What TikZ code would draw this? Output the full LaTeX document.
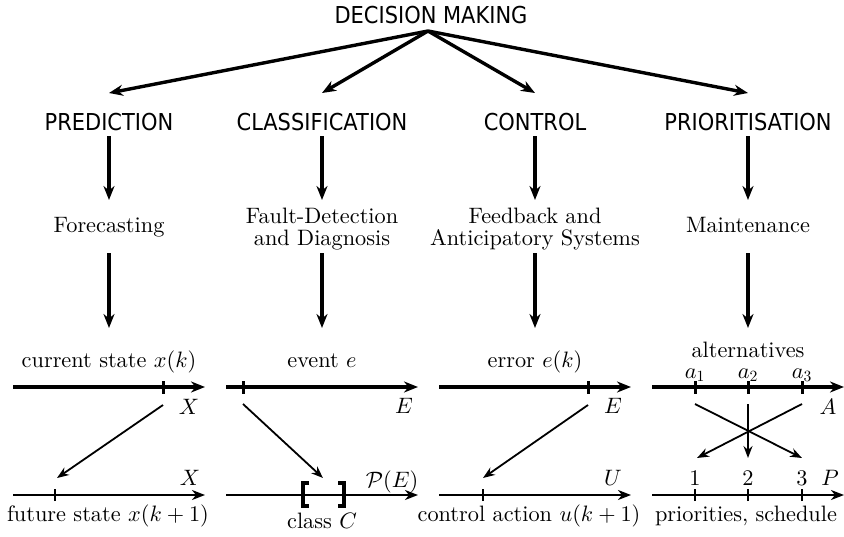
\RequirePackage{fix-cm}
\documentclass[tikz,border=0pt]{standalone}
\usepackage{fontspec}
\setmainfont{lmroman10-regular.otf}
\newfontfamily\hdfont[FakeStretch=0.9]{DejaVu Sans}
\DeclareFontShape{OML}{cmm}{m}{it}{<->cmmi10}{\skewchar\font'177}
\DeclareFontShape{OMS}{cmsy}{m}{n}{<->cmsy10}{\skewchar\font'60}
\DeclareFontShape{OT1}{cmr}{m}{n}{<->cmr10}{}
\usetikzlibrary{arrows.meta}
\tikzset{
  txt/.style={font=\fontsize{22.3}{22}\selectfont, inner sep=0pt},
  hd/.style={font=\hdfont\fontsize{23.3}{26}\selectfont, inner sep=2pt},
  fat/.style={line width=3.4pt, -{Stealth[length=14pt,width=11pt,inset=4.5pt]}},
  axthick/.style={line width=3.4pt, -{Stealth[length=14pt,width=11pt,inset=4.5pt]}},
  axthin/.style={line width=2pt, -{Stealth[length=13pt,width=10pt,inset=4pt]}},
  thinarr/.style={line width=1.8pt, -{Stealth[length=12pt,width=9pt,inset=4pt]}},
  tickmark/.style={line width=3pt},
  brk/.style={line width=3.2pt, line cap=butt, line join=miter},
}
\begin{document}
\begin{tikzpicture}[x=1pt,y=-1pt]
\useasboundingbox (0,0) rectangle (844,536);
% top level
\node[hd] (dm) at (431,15) {DECISION MAKING};
\coordinate (src) at (428,31);
% headings
\node[hd] (h1) at (109,122) {PREDICTION};
\node[hd] (h2) at (322,122) {CLASSIFICATION};
\node[hd] (h3) at (535,122) {CONTROL};
\node[hd] (h4) at (748,122) {PRIORITISATION};
\foreach \i/\x in {1/109,2/322,3/535,4/748}{
  \coordinate (t\i) at (\x,93);
  \coordinate (u\i) at (\x,200);
  \coordinate (v\i) at (\x,253);
  \coordinate (w\i) at (\x,328);
}
\foreach \i in {1,...,4}{
  \draw[fat] (src) -- (t\i);
  \draw[fat, shorten <=3pt] (h\i) -- (u\i);
  \draw[fat] (v\i) -- (w\i);
}
% second level
\node[txt, anchor=base] (f1) at (109,232) {Forecasting};
\node[txt, align=center] (f2) at (322,229.5) {Fault-Detection\\and Diagnosis};
\node[txt, align=center] (f3) at (535,229.5) {Feedback and\\Anticipatory Systems};
\node[txt, anchor=base] (f4) at (748,232) {Maintenance};
% third level labels
\node[txt, anchor=base] (l1) at (109,367) {current state $x(k)$};
\node[txt, anchor=base] (l2) at (322,367) {event $e$};
\node[txt, anchor=base] (l3) at (535,367) {error $e(k)$};
\node[txt, anchor=base] (l4) at (748,357) {alternatives};
\node[txt, anchor=base] (a1) at (695,378) {$a_1$};
\node[txt, anchor=base] (a2) at (748,378) {$a_2$};
\node[txt, anchor=base] (a3) at (802,378) {$a_3$};
% top and bottom axes
\foreach \i/\s in {1/13,2/226,3/439,4/652}{
  \coordinate (As\i) at (\s,387);
  \coordinate (Ae\i) at (\s+192,387);
  \draw[axthick] (As\i) -- (Ae\i);
  \coordinate (Bs\i) at (\s,495);
  \coordinate (Be\i) at (\s+192,495);
  \draw[axthin] (Bs\i) -- (Be\i);
}
% ticks on top axes
\foreach \x in {163,243,588,695,748,802}{
  \coordinate (tk) at (\x,387);
  \draw[tickmark] ([yshift=-6.5pt]tk) -- ([yshift=6.5pt]tk);
}
% ticks on bottom axes
\foreach \x in {55,483,695,748,802}{
  \coordinate (bk) at (\x,495);
  \draw[line width=2.6pt] ([yshift=-6pt]bk) -- ([yshift=6pt]bk);
}
% axis labels
\node[txt] (X1) at (189,407) {$X$};
\node[txt] (E2) at (404,406) {$E$};
\node[txt] (E3) at (613,406) {$E$};
\node[txt] (A4) at (828,407) {$A$};
\node[txt, anchor=base] (X1b) at (190,485) {$X$};
\node[txt, anchor=base] (P2) at (392,487) {$\mathcal{P}(E)$};
\node[txt, anchor=base] (U3) at (613,485) {$U$};
\node[txt, anchor=base] (P4) at (830,485) {$P$};
\node[txt, anchor=base] (n1) at (695,485) {1};
\node[txt, anchor=base] (n2) at (748,485) {2};
\node[txt, anchor=base] (n3) at (802,485) {3};
% mapping arrows
\coordinate (d1s) at (163,405); \coordinate (d1e) at (57,478);
\coordinate (d2s) at (243,404); \coordinate (d2e) at (323,478);
\coordinate (d3s) at (588,405); \coordinate (d3e) at (483,478);
\coordinate (d4s) at (695,404); \coordinate (d4e) at (802,458);
\coordinate (d5s) at (802,404); \coordinate (d5e) at (697,458);
\coordinate (d6s) at (748,404); \coordinate (d6e) at (748,458);
\foreach \i in {1,...,6}{
  \draw[thinarr] (d\i s) -- (d\i e);
}
% class brackets
\draw[brk] (309,483) -- (303,483) -- (303,506) -- (309,506);
\draw[brk] (338,483) -- (344,483) -- (344,506) -- (338,506);
% bottom texts
\node[txt, anchor=base] (b1) at (108,521) {future state $x(k+1)$};
\node[txt, anchor=base] (b2) at (322,528) {class $C$};
\node[txt, anchor=base] (b3) at (529,521) {control action $u(k+1)$};
\node[txt, anchor=base] (b4) at (746,521) {priorities, schedule};
\end{tikzpicture}
\end{document}
